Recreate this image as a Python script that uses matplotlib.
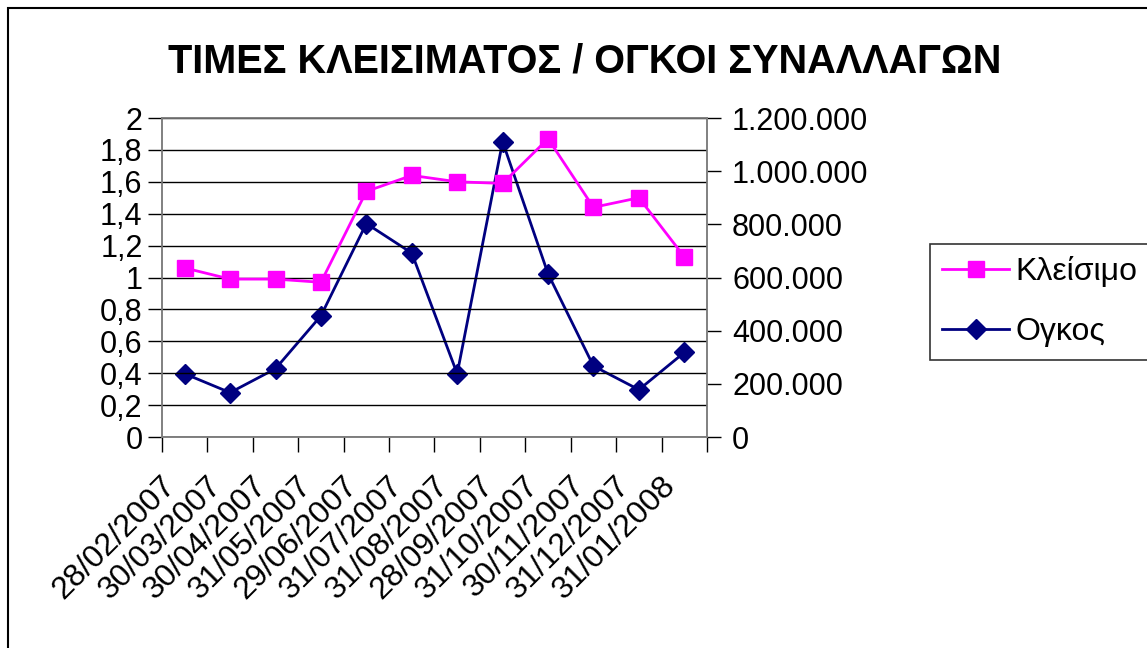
import matplotlib
matplotlib.use("Agg")
import matplotlib.pyplot as plt
import matplotlib.transforms as mtransforms
from matplotlib.patches import Rectangle
from matplotlib.ticker import FuncFormatter, FixedLocator

dates = ["28/02/2007", "30/03/2007", "30/04/2007", "31/05/2007", "29/06/2007",
         "31/07/2007", "31/08/2007", "28/09/2007", "31/10/2007", "30/11/2007",
         "31/12/2007", "31/01/2008"]
kleisimo = [1.06, 0.99, 0.99, 0.97, 1.54, 1.64, 1.60, 1.59, 1.87, 1.44, 1.50, 1.13]
ogkos = [238000, 167000, 257000, 456000, 803000, 692000, 238000, 1111000,
         614000, 267000, 178000, 318000]
left_ticks = [0, 0.2, 0.4, 0.6, 0.8, 1, 1.2, 1.4, 1.6, 1.8, 2]
right_ticks = [0, 200000, 400000, 600000, 800000, 1000000, 1200000]

plt.rcParams['font.family'] = ['Liberation Sans', 'DejaVu Sans']

fig = plt.figure(figsize=(11.47, 6.48), dpi=100)
ax = fig.add_axes([0.1412, 0.3256, 0.4752, 0.4923])
ax2 = ax.twinx()

x = list(range(len(dates)))

ax.set_ylim(0, 2)
ax.set_xlim(-0.5, len(dates) - 0.5)
ax.set_yticks(left_ticks)
ax.yaxis.set_major_formatter(FuncFormatter(lambda v, p: ("%g" % v).replace(".", ",")))
ax.grid(axis="y", color="black", lw=1)

ax.set_xticks(x)
ax.set_xticklabels(dates, rotation=45, ha="right", va="top", rotation_mode="anchor", fontsize=23)
ax.xaxis.set_minor_locator(FixedLocator([i - 0.5 for i in range(len(dates) + 1)]))
ax.tick_params(axis="x", which="major", length=0, pad=24)
ax.tick_params(axis="x", which="minor", length=11, width=1)
ax.tick_params(axis="y", length=10, width=1, labelsize=22, pad=4)
shift = mtransforms.ScaledTranslation(-24 / 100, 0, fig.dpi_scale_trans)
for lab in ax.get_xticklabels():
    lab.set_transform(lab.get_transform() + shift)

ax2.set_ylim(0, 1200000)
ax2.set_yticks(right_ticks)
ax2.yaxis.set_major_formatter(FuncFormatter(lambda v, p: "{:,}".format(int(v)).replace(",", ".")))
ax2.tick_params(axis="y", length=10, width=1, labelsize=22, pad=8)

for a in (ax, ax2):
    for s in a.spines.values():
        s.set_color("#808080")
        s.set_linewidth(1.2)

ax2.plot(x, ogkos, color="#000080", lw=2, marker="D", markersize=10, label="Ογκος", zorder=3)
ax.plot(x, kleisimo, color="#FF00FF", lw=2, marker="s", markersize=11, label="Κλείσιμο", zorder=3)
ax.set_zorder(ax2.get_zorder() + 1)
ax.patch.set_visible(False)
ax2.patch.set_facecolor("#C0C0C0")

h1, l1 = ax.get_legend_handles_labels()
h2, l2 = ax2.get_legend_handles_labels()
leg = fig.legend(h1 + h2, l1 + l2, loc="upper left", bbox_to_anchor=(930 / 1147, 1 - 244 / 648),
                 fontsize=23, frameon=True, fancybox=False, edgecolor="black",
                 handlelength=2.1, borderpad=0.38, labelspacing=0.95, handletextpad=0.2,
                 borderaxespad=0)
leg.get_frame().set_linewidth(1.2)

fig.text(0.51, 0.905, "ΤΙΜΕΣ ΚΛΕΙΣΙΜΑΤΟΣ / ΟΓΚΟΙ ΣΥΝΑΛΛΑΓΩΝ", ha="center", va="center",
         fontsize=28.5, fontweight="bold")

fig.add_artist(Rectangle((8 / 1147, -0.1), 1.1, 1.1 - 8 / 648, transform=fig.transFigure,
                         fill=False, lw=1.5, edgecolor="black"))

fig.savefig("out.png", dpi=100)
